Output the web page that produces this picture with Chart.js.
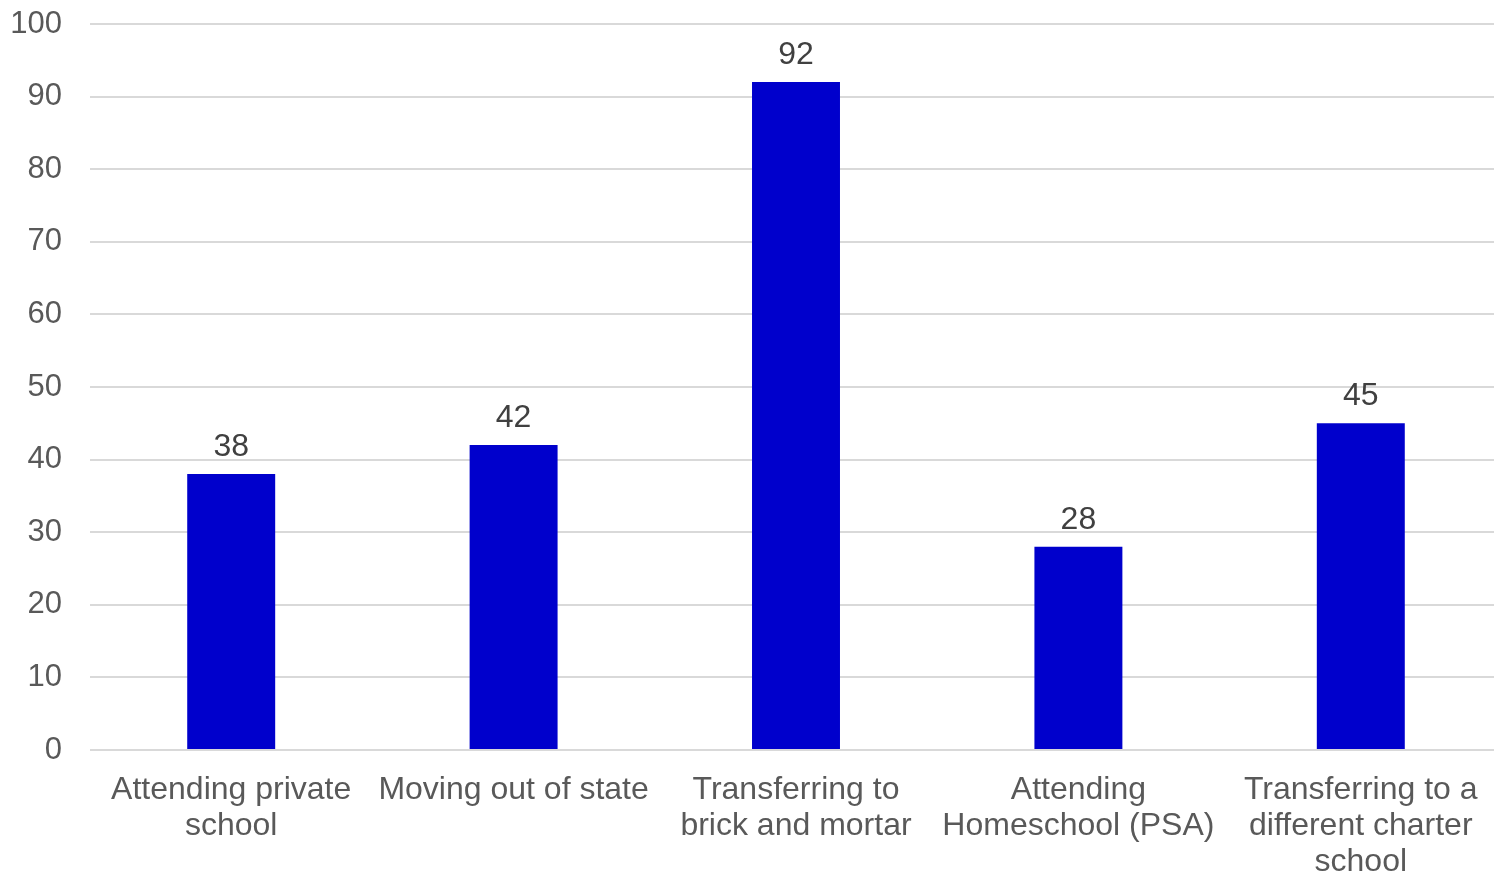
<!DOCTYPE html>
<html>
<head>
<meta charset="utf-8">
<script src="https://cdn.jsdelivr.net/npm/chart.js@4/dist/chart.umd.min.js"></script>
<style>
  html, body { margin: 0; padding: 0; background: #ffffff; }
  #wrap { width: 1494px; height: 873px; position: relative; }
</style>
</head>
<body>
<div id="wrap"><canvas id="c"></canvas></div>
<script>
const categories = [
  ["Attending private", "school"],
  ["Moving out of state"],
  ["Transferring to", "brick and mortar"],
  ["Attending", "Homeschool (PSA)"],
  ["Transferring to a", "different charter", "school"]
];
const values = [38, 42, 92, 28, 45];
const yTicks = [0, 10, 20, 30, 40, 50, 60, 70, 80, 90, 100];

const FONT = "'Liberation Sans', Arial, sans-serif";
const TEXT = "#595959";

const valueLabels = {
  id: "valueLabels",
  afterDatasetsDraw(chart) {
    const ctx = chart.ctx;
    const meta = chart.getDatasetMeta(0);
    ctx.save();
    ctx.font = "32px " + FONT;
    ctx.fillStyle = "#404040";
    ctx.textAlign = "center";
    ctx.textBaseline = "alphabetic";
    meta.data.forEach((bar, i) => {
      ctx.fillText(String(values[i]), bar.x, bar.y - 18);
    });
    ctx.restore();
  }
};

// plot area in the reference runs slightly past the right edge of the canvas
const extendRight = {
  id: "extendRight",
  afterLayout(chart) {
    const x = chart.scales.x;
    x.right += 8;
    x.width += 8;
    x.configure();
  }
};

new Chart(document.getElementById("c"), {
  type: "bar",
  data: {
    labels: categories,
    datasets: [{
      data: values,
      backgroundColor: "#0000CC",
      borderWidth: 0,
      barPercentage: 0.3115,
      categoryPercentage: 1
    }]
  },
  options: {
    responsive: true,
    maintainAspectRatio: false,
    animation: false,
    layout: { padding: 0 },
    plugins: { legend: { display: false }, tooltip: { enabled: false } },
    scales: {
      x: {
        grid: { display: false, drawTicks: false },
        border: { display: false },
        ticks: {
          color: TEXT,
          font: { family: FONT, size: 32, lineHeight: 1.125 },
          padding: 22,
          maxRotation: 0,
          autoSkip: false
        },
        afterFit(s) {
          s.height = 123;
          s.paddingTop = 0; s.paddingBottom = 0;
          s.paddingLeft = 0; s.paddingRight = 0;
        }
      },
      y: {
        min: 0,
        max: 100,
        afterBuildTicks(s) { s.ticks = yTicks.map(v => ({ value: v })); },
        grid: { color: "#D9D9D9", lineWidth: 2, drawTicks: false },
        border: { display: false },
        ticks: {
          color: TEXT,
          font: { family: FONT, size: 31 },
          padding: 28
        },
        afterFit(s) {
          s.width = 90;
          s.paddingTop = 24; s.paddingBottom = 0;
          s.paddingLeft = 0; s.paddingRight = 0;
        }
      }
    }
  },
  plugins: [extendRight, valueLabels]
});
</script>
</body>
</html>
